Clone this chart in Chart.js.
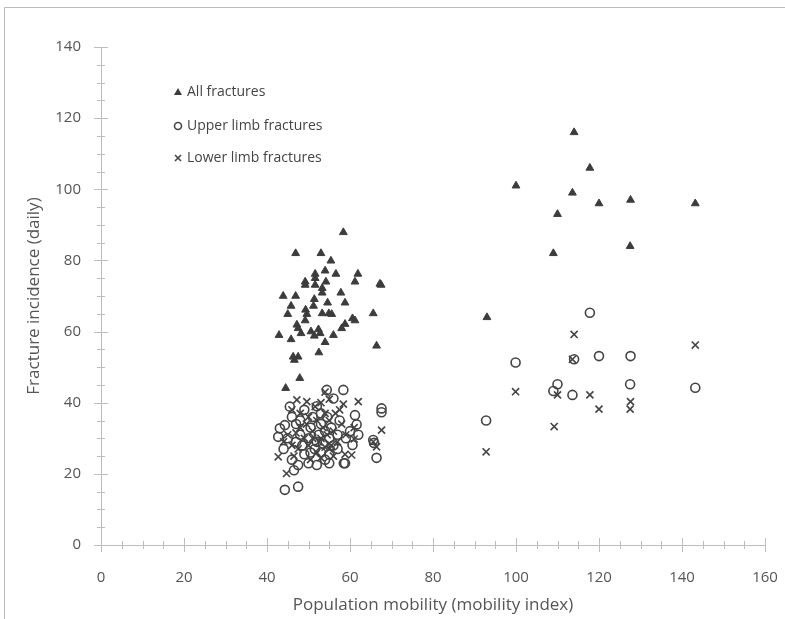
<!DOCTYPE html>
<html>
<head>
<meta charset="utf-8">
<script src="https://cdn.jsdelivr.net/npm/chart.js@4/dist/chart.umd.min.js"></script>
<style>
  html, body { margin: 0; padding: 0; background: #fff; }
  #wrap { width: 785px; height: 619px; }
</style>
</head>
<body>
<div id="wrap"><canvas id="scatter" width="785" height="619"></canvas></div>
<script>
// mobility index vs daily fractures
const allFractures = [
  [93, 64], [100, 101], [109, 82], [110, 93], [113.6, 99], [114, 116], [117.8, 106],
  [120, 96], [127.6, 97], [127.5, 84], [143.2, 96],
  [58.4, 87.9], [46.9, 82], [53, 82], [55.4, 79.9], [54, 77.1], [56.6, 76.2], [51.6, 76.2],
  [61.9, 76.2], [51.6, 75], [49.2, 74], [49.2, 73.1], [54.2, 74], [51.6, 73.1], [61.2, 74],
  [67.5, 73.1], [67.2, 73.4], [53.3, 72.2], [53.3, 70.9], [57.8, 70.9], [43.9, 70], [46.9, 70],
  [51.4, 69.1], [54.6, 68.1], [58.8, 68.1], [45.8, 67.2], [49.3, 66.1], [51.2, 67.2],
  [45, 64.9], [49.6, 64.9], [53.3, 65.1], [54.9, 65.1], [55.6, 64.9], [65.6, 65.1],
  [49.2, 63.1], [60.6, 63.7], [61.2, 63.1], [47.2, 61.9], [47.5, 60.9], [58.8, 62.1],
  [58, 60.9], [50.6, 60], [52.4, 60.6], [52.8, 59.5], [48.2, 59.5], [42.9, 59], [51.4, 58.8],
  [56, 59], [45.8, 57.8], [54, 57], [66.4, 56], [52.5, 54.1], [46.3, 52.9], [47.5, 52.9],
  [46.6, 52], [47.9, 46.9], [44.5, 44.1]
];
const upperLimb = [
  [92.8, 35], [99.9, 51.3], [109, 43.3], [110, 45.2], [113.6, 42.2], [114, 52.2], [117.8, 65.3],
  [120, 53.1], [127.6, 53.1], [127.5, 45.2], [143.2, 44.2],
  [44.3, 15.5], [47.5, 16.4], [46.5, 21], [47.5, 22.5], [50, 23], [52, 22.5], [55, 23],
  [58.5, 23], [66.4, 24.5], [46, 24], [44, 27], [43.1, 32.8], [42.7, 30.4], [44.3, 33.7],
  [45.5, 38.9], [46, 36], [47, 34], [48, 31], [48.5, 28], [49, 25.5], [50, 30], [50.5, 33],
  [51, 36], [51.5, 27], [52, 29], [52.5, 31], [53, 34], [53, 26], [53.5, 28.5], [54, 32],
  [54.4, 43.6], [54.5, 36], [55, 30], [55, 25.5], [55.5, 33], [56, 41.2], [56, 28], [57, 31],
  [57.5, 35], [58.4, 43.6], [58.8, 23], [59, 30], [60, 32], [60.6, 28.1], [61.2, 36.5],
  [61.6, 33.9], [62, 31], [65.6, 29.5], [65.8, 28.7], [67.6, 38.4], [67.6, 37.3], [49, 38],
  [47, 29], [45, 30], [52, 39], [57, 27], [54, 24], [50.5, 26], [53, 37], [48, 35]
];
const lowerLimb = [
  [92.8, 26.2], [99.9, 43.1], [109.2, 33.3], [110, 42.2], [114, 59.2], [113.6, 52.2],
  [117.8, 42.2], [120, 38.2], [127.6, 40.3], [127.5, 38.2], [143.2, 56.2],
  [42.7, 24.8], [44.7, 20.1], [47.2, 40.8], [49.6, 40.3], [51.6, 38.9], [53, 40], [54, 43],
  [55, 41], [58.4, 39.6], [62, 40.3], [56.5, 37], [45, 31], [46, 28], [46.5, 25], [47.5, 27],
  [48, 33], [49, 30], [50, 28], [50.5, 24], [51, 32], [52, 35], [52, 26], [53, 30], [53.5, 33],
  [54, 27.5], [54.5, 31], [55, 35], [55.5, 28], [56, 32], [56, 25], [57, 29], [58, 34],
  [58.8, 25.5], [60.4, 25.3], [61, 29.8], [61, 33], [65.6, 29], [66.4, 27.6], [67.6, 32.3],
  [48, 37], [46, 38], [44, 29], [50, 36], [52.5, 29], [54, 37], [57.5, 38], [59, 31],
  [49.5, 34], [51, 30], [53, 24.5], [47, 31.5], [55, 27]
];
const seriesNames = ['All fractures', 'Upper limb fractures', 'Lower limb fractures'];
const xTicks = [0, 20, 40, 60, 80, 100, 120, 140, 160];
const yTicks = [0, 20, 40, 60, 80, 100, 120, 140];

const ink = '#3c3c3c';
const axisGrey = '#bdbdbd';
const textGrey = '#555';
const fontFam = "'Open Sans', sans-serif";

const toPts = arr => arr.map(p => ({ x: p[0], y: p[1] }));

// frame around the figure
const framePlugin = {
  id: 'frame',
  beforeDraw(chart) {
    const c = chart.ctx;
    c.save();
    c.strokeStyle = '#bbb';
    c.lineWidth = 1;
    c.beginPath();
    c.moveTo(4.5, chart.height);
    c.lineTo(4.5, 7.5);
    c.lineTo(chart.width, 7.5);
    c.stroke();
    c.restore();
  }
};

// cross ticks on both axes, every 5 units, longer at labelled values
const crossTicks = {
  id: 'crossTicks',
  afterDraw(chart) {
    const c = chart.ctx;
    const xs = chart.scales.x, ys = chart.scales.y;
    const x0 = xs.getPixelForValue(0), y0 = ys.getPixelForValue(0);
    c.save();
    c.strokeStyle = axisGrey;
    c.lineWidth = 1;
    c.beginPath();
    c.moveTo(x0 + 0.5, ys.getPixelForValue(140));
    c.lineTo(x0 + 0.5, y0);
    c.moveTo(x0 - 7, y0 + 0.5);
    c.lineTo(xs.getPixelForValue(160), y0 + 0.5);
    xs.ticks.forEach(t => {
      const px = Math.round(xs.getPixelForValue(t.value)) + 0.5;
      const major = xTicks.includes(t.value);
      c.moveTo(px, y0 - (major ? 7 : 4));
      c.lineTo(px, y0 + (major ? 7 : 4));
    });
    ys.ticks.forEach(t => {
      const py = Math.round(ys.getPixelForValue(t.value)) + 0.5;
      const major = yTicks.includes(t.value);
      c.moveTo(x0 - (major ? 7 : 4), py);
      c.lineTo(x0 + (major ? 7 : 4), py);
    });
    c.stroke();
    c.restore();
  }
};

// vertical legend inside the plot area
const legendBox = {
  id: 'legendBox',
  afterDraw(chart) {
    const c = chart.ctx;
    const left = 178, tops = [92, 126, 158];
    c.save();
    c.font = '14px ' + fontFam;
    c.textBaseline = 'middle';
    chart.data.datasets.forEach((ds, i) => {
      c.fillStyle = ink;
      c.strokeStyle = ds.borderColor;
      c.lineWidth = ds.borderWidth;
      c.beginPath();
      if (ds.pointStyle === 'triangle') {
        c.moveTo(left, tops[i] - 4);
        c.lineTo(left + 4, tops[i] + 3);
        c.lineTo(left - 4, tops[i] + 3);
        c.closePath();
        c.fill();
      } else if (ds.pointStyle === 'circle') {
        c.arc(left, tops[i], 3.5, 0, Math.PI * 2);
        c.stroke();
      } else {
        c.moveTo(left - 3, tops[i] - 3); c.lineTo(left + 3, tops[i] + 3);
        c.moveTo(left + 3, tops[i] - 3); c.lineTo(left - 3, tops[i] + 3);
        c.stroke();
      }
      c.fillStyle = '#444';
      c.fillText(seriesNames[i], left + 9, tops[i]);
    });
    c.restore();
  }
};

new Chart(document.getElementById('scatter'), {
  type: 'scatter',
  data: {
    datasets: [
      {
        label: seriesNames[0],
        data: toPts(allFractures),
        pointStyle: 'triangle',
        pointRadius: 4.5,
        backgroundColor: ink,
        borderColor: ink,
        borderWidth: 1
      },
      {
        label: seriesNames[1],
        data: toPts(upperLimb),
        pointStyle: 'circle',
        pointRadius: 4.5,
        backgroundColor: 'transparent',
        borderColor: '#444',
        borderWidth: 1.6
      },
      {
        label: seriesNames[2],
        data: toPts(lowerLimb),
        pointStyle: 'crossRot',
        pointRadius: 5,
        backgroundColor: 'transparent',
        borderColor: '#444',
        borderWidth: 1.6
      }
    ]
  },
  options: {
    responsive: false,
    animation: false,
    layout: { padding: { top: 47, right: 20, left: 20, bottom: 0 } },
    plugins: {
      legend: { display: false },
      tooltip: { enabled: false }
    },
    scales: {
      x: {
        type: 'linear',
        min: 0, max: 160,
        grid: { display: false, drawTicks: false },
        border: { display: false },
        afterFit(scale) {
          scale.height = 74;
          scale.paddingLeft = 0;
          scale.paddingRight = 0;
        },
        afterBuildTicks(scale) {
          scale.ticks = [];
          for (let v = 0; v <= 160; v += 5) scale.ticks.push({ value: v });
        },
        ticks: {
          autoSkip: false,
          maxRotation: 0,
          padding: 24,
          color: textGrey,
          font: { family: fontFam, size: 15 },
          callback: v => (xTicks.includes(v) ? String(v) : '')
        },
        title: {
          display: true,
          text: 'Population mobility (mobility index)',
          color: textGrey,
          font: { family: fontFam, size: 17 },
          padding: { top: 4 }
        }
      },
      y: {
        type: 'linear',
        min: 0, max: 140,
        grid: { display: false, drawTicks: false },
        border: { display: false },
        afterFit(scale) {
          scale.width = 81;
          scale.paddingTop = 0;
          scale.paddingBottom = 0;
        },
        afterBuildTicks(scale) {
          scale.ticks = [];
          for (let v = 0; v <= 140; v += 5) scale.ticks.push({ value: v });
        },
        ticks: {
          autoSkip: false,
          padding: 20,
          color: textGrey,
          font: { family: fontFam, size: 15 },
          callback: v => (yTicks.includes(v) ? String(v) : '')
        },
        title: {
          display: true,
          text: 'Fracture incidence (daily)',
          color: textGrey,
          font: { family: fontFam, size: 17 },
          padding: { bottom: 4 }
        }
      }
    }
  },
  plugins: [framePlugin, crossTicks, legendBox]
});
</script>
</body>
</html>
